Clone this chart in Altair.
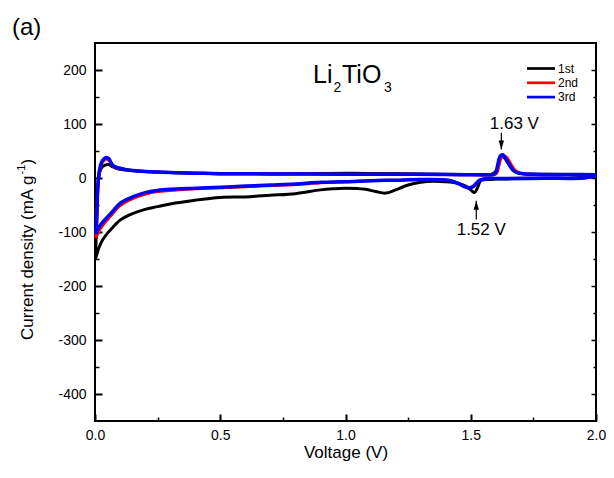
import altair as alt
import pandas as pd

FONT = "Liberation Sans"

cycles = ["1st", "2nd", "3rd"]
colors = ["#000000", "#ff0000", "#0000ff"]

# ---- cycle 1 (black) ----
c1_cat_v = [2.0, 1.9, 1.8, 1.7, 1.6, 1.56, 1.54, 1.525, 1.515, 1.5, 1.48, 1.45, 1.4, 1.35, 1.3,
            1.25, 1.2, 1.16, 1.12, 1.08, 1.0, 0.95, 0.9, 0.8, 0.7, 0.6, 0.5, 0.4, 0.3, 0.25,
            0.2, 0.15, 0.1, 0.07, 0.05, 0.03, 0.015, 0.005, 0.002]
c1_cat_i = [3, 0, -1, -1.5, -2, -3, -5, -20, -27, -22, -15, -10, -7, -6, -8,
            -13, -22, -28, -25, -21, -19, -20, -22, -29, -32, -35, -36, -41, -48, -53,
            -58, -66, -78, -92, -102, -115, -130, -145, -150]
c1_an_v = [0.002, 0.006, 0.01, 0.015, 0.025, 0.04, 0.055, 0.07, 0.09, 0.12, 0.2, 0.3, 0.5, 0.7, 0.9,
           1.1, 1.3, 1.5, 1.58, 1.6, 1.61, 1.622, 1.635, 1.65, 1.67, 1.69, 1.72, 1.8, 1.9, 2.0]
c1_an_i = [-150, -90, -30, 2, 18, 24, 25, 21, 17, 15, 12, 10, 8, 8, 8.5,
           8.5, 7.5, 6.5, 6.5, 12, 25, 40, 37, 26, 14, 9, 7.5, 7, 6.5, 5.5]

# ---- cycle 2 (red) ----
c2_cat_v = [2.0, 1.95, 1.8, 1.6, 1.55, 1.535, 1.52, 1.505, 1.49, 1.47, 1.45, 1.42, 1.4, 1.3, 1.2,
            1.1, 1.0, 0.9, 0.8, 0.7, 0.6, 0.5, 0.4, 0.3, 0.25, 0.2, 0.15, 0.1, 0.07, 0.05,
            0.03, 0.02, 0.01, 0.004]
c2_cat_i = [4, 0, -0.5, -1, -2, -4, -11, -17, -18, -15, -10, -5, -3.5, -3, -4,
            -5, -7, -9, -12, -14, -16, -18, -20, -23, -25, -30, -38, -51, -66, -77,
            -88, -95, -104, -111]
c2_an_v = [0.004, 0.008, 0.012, 0.018, 0.025, 0.035, 0.045, 0.055, 0.07, 0.09, 0.12, 0.15, 0.2, 0.3, 0.4,
           0.5, 0.7, 1.0, 1.2, 1.4, 1.55, 1.595, 1.605, 1.613, 1.623, 1.633, 1.645, 1.66, 1.675, 1.69,
           1.705, 1.75, 1.9, 2.0]
c2_an_i = [-111, -65, -12, 12, 25, 32, 35, 33, 23, 18, 16, 14, 12, 10, 9,
           8, 7.5, 7, 7, 6.5, 6, 6.5, 10, 24, 39, 41, 37, 26, 15, 10,
           8.5, 7, 6.5, 6]

# ---- cycle 3 (blue) ----
c3_cat_v = [2.0, 1.95, 1.8, 1.6, 1.55, 1.535, 1.52, 1.505, 1.49, 1.47, 1.45, 1.42, 1.4, 1.3, 1.2,
            1.1, 1.0, 0.9, 0.8, 0.7, 0.6, 0.5, 0.4, 0.3, 0.25, 0.2, 0.15, 0.1, 0.07, 0.05,
            0.03, 0.02, 0.01, 0.004]
c3_cat_i = [4, 0, -0.5, -1, -2, -4, -11, -17, -18, -15, -10, -5, -3.5, -3, -4,
            -5, -7, -8, -11, -13, -15, -17, -19, -21, -23, -27, -35, -47, -62, -72,
            -82, -88, -96, -103]
c3_an_v = [0.004, 0.008, 0.012, 0.018, 0.025, 0.035, 0.045, 0.055, 0.07, 0.09, 0.12, 0.15, 0.2, 0.3, 0.4,
           0.5, 0.7, 1.0, 1.2, 1.4, 1.55, 1.59, 1.6, 1.608, 1.618, 1.628, 1.64, 1.655, 1.67, 1.685,
           1.7, 1.75, 1.9, 2.0]
c3_an_i = [-103, -60, -10, 15, 28, 35, 38, 36, 24, 19, 16, 14, 12, 10, 9,
           8, 7.5, 7, 7, 6.5, 6, 6.5, 10, 25, 41, 43, 36, 24, 14, 10,
           8.5, 7, 6.5, 6]

# axis ticks
x_major = [0.0, 0.5, 1.0, 1.5, 2.0]
x_minor = [0.25, 0.75, 1.25, 1.75]
y_major = [-400, -300, -200, -100, 0, 100, 200]
y_minor = [-350, -250, -150, -50, 50, 150]

# annotations (data coordinates)
arrow_v = [1.622, 1.522]
arrow_tail = [84, -77]
arrow_tip = [53, -42]
peak_text = ["1.63 V", "1.52 V"]
peak_text_v = [1.674, 1.542]
peak_text_i = [90, -105]


def loop(cv, ci, av, ai, name):
    v = cv + av
    i = ci + ai
    return pd.DataFrame({"V": v, "I": i, "order": list(range(len(v))), "cycle": name})


data = {
    "1st": loop(c1_cat_v, c1_cat_i, c1_an_v, c1_an_i, "1st"),
    "2nd": loop(c2_cat_v, c2_cat_i, c2_an_v, c2_an_i, "2nd"),
    "3rd": loop(c3_cat_v, c3_cat_i, c3_an_v, c3_an_i, "3rd"),
}
all_df = pd.concat(list(data.values()), ignore_index=True)

xs = alt.Scale(domain=[0, 2], nice=False, zero=False)
ys = alt.Scale(domain=[-450, 250], nice=False, zero=False)


def axis_layer(x_axis, y_axis):
    return alt.Chart(all_df).mark_point(opacity=0, size=1).encode(
        x=alt.X("V:Q", scale=xs, axis=x_axis),
        y=alt.Y("I:Q", scale=ys, axis=y_axis),
    )


common = dict(domain=False, grid=False, tickColor="black", labelColor="black")

ax_main = axis_layer(
    alt.Axis(orient="bottom", values=x_major, format=".1f", tickSize=7, offset=-7, tickWidth=2,
             labelPadding=7, labelFlush=False, labelFontSize=14, labelFont=FONT,
             title="Voltage (V)", titleFont=FONT, titleFontSize=17, titleFontWeight="normal",
             titleColor="black", titlePadding=2, **common),
    alt.Axis(orient="left", values=y_major, tickSize=7, offset=-7, tickWidth=2,
             labelPadding=9, labelFontSize=14, labelFont=FONT, labelExpr="'' + datum.value",
             title=None, **common),
)
ax_minor = axis_layer(
    alt.Axis(orient="bottom", values=x_minor, tickSize=4, offset=-4, tickWidth=1.5,
             labels=False, title=None, **common),
    alt.Axis(orient="left", values=y_minor, tickSize=4, offset=-4, tickWidth=1.5,
             labels=False, title=None, **common),
)
ax_right = axis_layer(
    None,
    alt.Axis(orient="right", values=y_major, tickSize=5, offset=-5, tickWidth=1.5,
             labels=False, title=None, **common),
)
ax_right_minor = axis_layer(
    None,
    alt.Axis(orient="right", values=y_minor, tickSize=3, offset=-3, tickWidth=1.5,
             labels=False, title=None, **common),
)

curve_layers = []
for name, col, sw in zip(cycles, colors, [3, 3, 3.5]):
    curve_layers.append(
        alt.Chart(data[name]).mark_line(color=col, strokeWidth=sw, interpolate="catmull-rom").encode(
            x=alt.X("V:Q", scale=xs, axis=None),
            y=alt.Y("I:Q", scale=ys, axis=None),
            order="order:Q",
        )
    )

ann_df = pd.DataFrame({"v": arrow_v, "tail": arrow_tail, "tip": arrow_tip,
                       "dir": ["down", "up"]})
arrow_rules = alt.Chart(ann_df).mark_rule(color="black", strokeWidth=1.2).encode(
    x=alt.X("v:Q", scale=xs, axis=None),
    y=alt.Y("tail:Q", scale=ys, axis=None),
    y2="tip:Q",
)
head_down = alt.Chart(ann_df).transform_filter("datum.dir == 'down'").mark_point(
    shape="M-0.3,-1L0.3,-1L0,0Z", filled=True, opacity=1, color="black", size=324, strokeWidth=0
).encode(x=alt.X("v:Q", scale=xs, axis=None), y=alt.Y("tip:Q", scale=ys, axis=None))
head_up = alt.Chart(ann_df).transform_filter("datum.dir == 'up'").mark_point(
    shape="M-0.3,1L0.3,1L0,0Z", filled=True, opacity=1, color="black", size=324, strokeWidth=0
).encode(x=alt.X("v:Q", scale=xs, axis=None), y=alt.Y("tip:Q", scale=ys, axis=None))

peak_df = pd.DataFrame({"t": peak_text, "v": peak_text_v, "i": peak_text_i})
peak_labels = alt.Chart(peak_df).mark_text(
    font=FONT, fontSize=17, align="center", baseline="alphabetic", color="black"
).encode(x=alt.X("v:Q", scale=xs, axis=None), y=alt.Y("i:Q", scale=ys, axis=None), text="t:N")

# compound label Li2TiO3
formula_parts = ["Li", "2", "TiO", "3"]
formula_layers = []
for txt, px, py, fs in zip(formula_parts, [218, 238.5, 247, 289], [40, 49, 40, 49], [25, 14, 25, 14]):
    formula_layers.append(
        alt.Chart(pd.DataFrame({"t": [txt]})).mark_text(
            font=FONT, fontSize=fs, align="left", baseline="alphabetic", color="black"
        ).encode(x=alt.value(px), y=alt.value(py), text="t:N")
    )

# legend (drawn inside plot)
legend_layers = []
for k, (name, col) in enumerate(zip(cycles, colors)):
    yy = 25.5 + 14.3 * k
    legend_layers.append(
        alt.Chart(pd.DataFrame({"t": [name]})).mark_rule(color=col, strokeWidth=2.7).encode(
            x=alt.value(432), x2=alt.value(460), y=alt.value(yy))
    )
    legend_layers.append(
        alt.Chart(pd.DataFrame({"t": [name]})).mark_text(
            font=FONT, fontSize=12, align="left", baseline="middle", color="black"
        ).encode(x=alt.value(463), y=alt.value(yy), text="t:N")
    )

# y-axis title with superscript
ytitle_parts = ["Current density (mA g", "-1", ")"]
ytitle_layers = []
for txt, px, py, fs in zip(ytitle_parts, [-67, -73, -67], [297, 131.5, 121.5], [17, 11, 17]):
    ytitle_layers.append(
        alt.Chart(pd.DataFrame({"t": [txt]})).mark_text(
            font=FONT, fontSize=fs, angle=270, align="left", baseline="middle", color="black"
        ).encode(x=alt.value(px), y=alt.value(py), text="t:N")
    )

panel_label = alt.Chart(pd.DataFrame({"t": ["(a)"]})).mark_text(
    font=FONT, fontSize=24, align="left", baseline="middle", color="black"
).encode(x=alt.value(-83), y=alt.value(-15), text="t:N")

chart = alt.layer(
    ax_main, ax_minor, ax_right, ax_right_minor,
    *curve_layers,
    arrow_rules, head_down, head_up, peak_labels,
    *formula_layers, *legend_layers, *ytitle_layers, panel_label,
).resolve_axis(x="independent", y="independent").properties(
    width=501, height=378,
    padding={"left": 87, "top": 35, "right": 10, "bottom": 45},
    autosize=alt.AutoSizeParams(type="none"),
).configure_view(stroke="black", strokeWidth=2)

chart.save("out.html", embed_options={"renderer": "svg", "actions": False})
